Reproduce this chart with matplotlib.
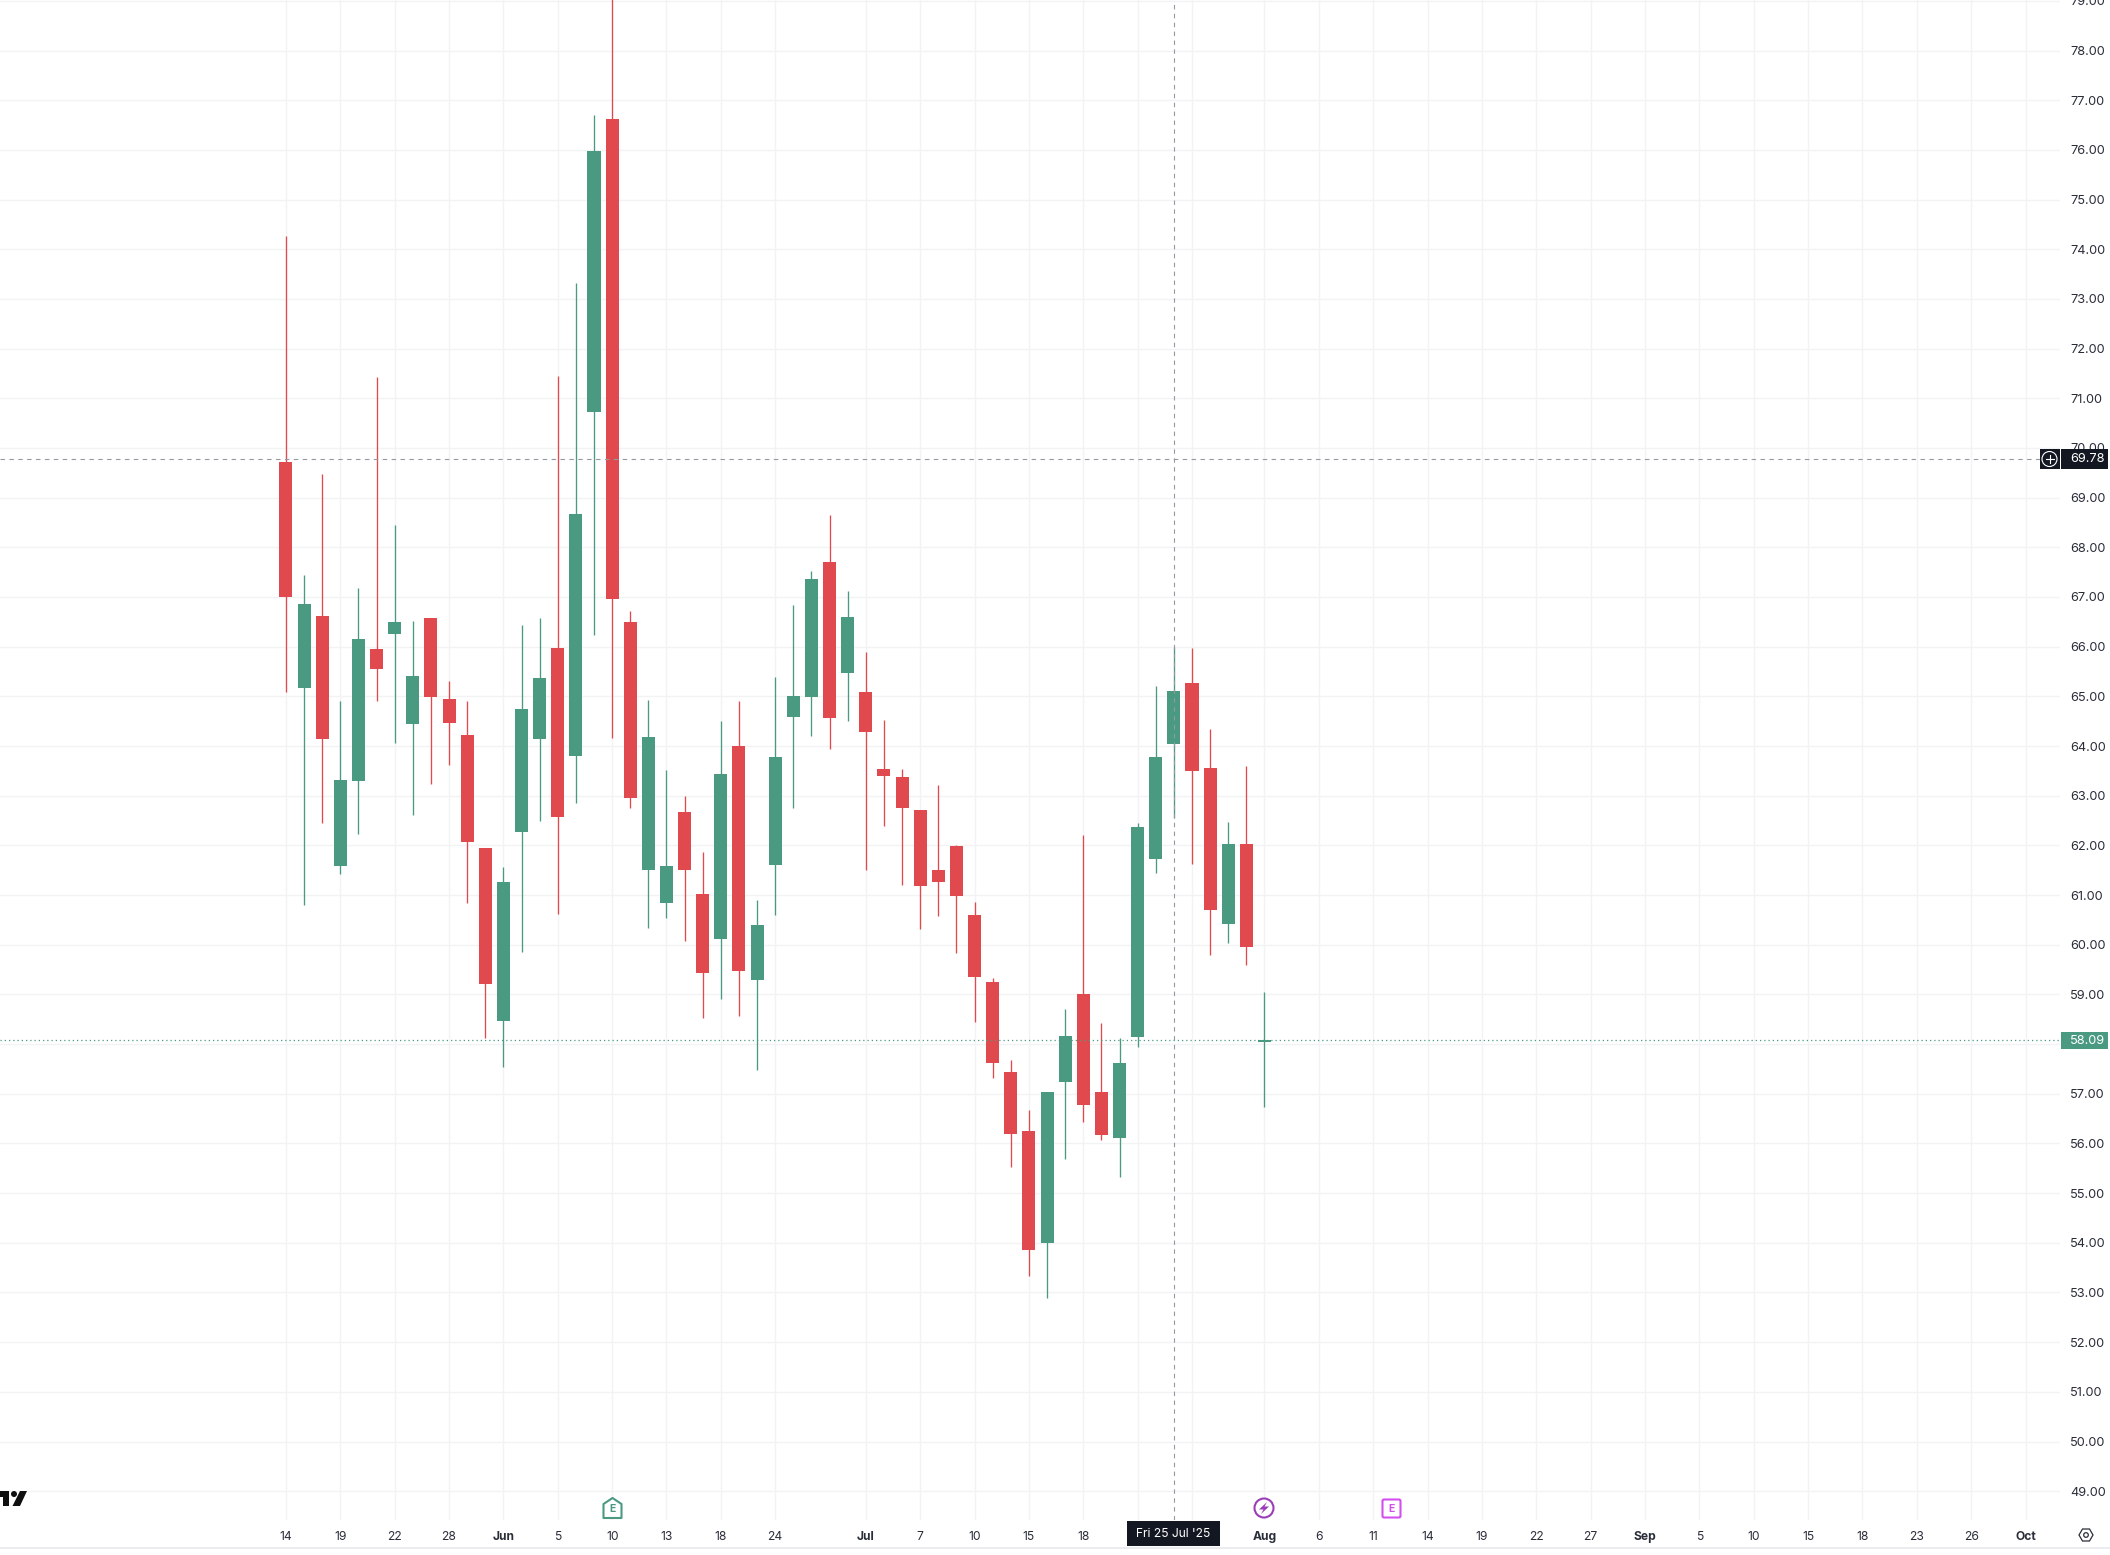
import matplotlib
matplotlib.use('Agg')
import matplotlib.pyplot as plt
from matplotlib.patches import Circle, FancyBboxPatch, Polygon, Rectangle
import numpy as np

plt.rcParams['font.family'] = ['Inter', 'DejaVu Sans']

# daily candles
opens = [69.71, 65.16, 66.61, 61.59, 63.29, 65.95, 66.25, 64.44, 66.57, 64.94,
         64.22, 61.95, 58.46, 62.27, 64.14, 65.97, 63.80, 70.72, 76.62, 66.50,
         61.51, 60.83, 62.67, 61.02, 60.12, 64.01, 59.28, 61.61, 64.58, 64.99,
         67.70, 65.47, 65.09, 63.54, 63.38, 62.71, 61.50, 61.99, 60.59, 59.24,
         57.44, 56.25, 54.00, 57.23, 59.01, 57.03, 56.11, 58.14, 61.72, 64.05,
         65.26, 63.55, 60.41, 62.02, 58.05]
highs = [74.26, 67.44, 69.47, 64.90, 67.18, 71.42, 68.44, 66.51, 66.57, 65.31,
         64.90, 61.95, 61.56, 66.43, 66.57, 71.45, 73.32, 76.70, 79.50, 66.72,
         64.93, 63.52, 62.99, 61.87, 64.50, 64.90, 60.90, 65.39, 66.84, 67.52,
         68.65, 67.12, 65.89, 64.52, 63.54, 62.71, 63.21, 62.01, 60.87, 59.34,
         57.68, 56.67, 57.03, 58.70, 62.21, 58.42, 58.12, 62.46, 65.20, 66.00,
         65.97, 64.34, 62.48, 63.59, 59.04]
lows = [65.08, 60.79, 62.46, 61.43, 62.22, 64.90, 64.06, 62.61, 63.24, 63.61,
        60.84, 58.12, 57.53, 59.85, 62.49, 60.62, 62.86, 66.23, 64.16, 62.75,
        60.33, 60.53, 60.07, 58.53, 58.90, 58.57, 57.47, 60.60, 62.76, 64.20,
        63.93, 64.51, 61.51, 62.40, 61.21, 60.32, 60.58, 59.83, 58.45, 57.32,
        55.53, 53.34, 52.89, 55.69, 56.44, 56.07, 55.33, 57.94, 61.44, 62.55,
        61.62, 59.79, 60.03, 59.59, 56.73]
closes = [67.00, 66.86, 64.14, 63.32, 66.15, 65.55, 66.50, 65.40, 64.99, 64.46,
          62.07, 59.20, 61.27, 64.75, 65.36, 62.57, 68.68, 75.97, 66.96, 62.95,
          64.18, 61.59, 61.51, 59.44, 63.43, 59.48, 60.40, 63.78, 65.01, 67.36,
          64.56, 66.60, 64.28, 63.40, 62.75, 61.18, 61.26, 60.98, 59.36, 57.62,
          56.19, 53.86, 57.03, 58.16, 56.78, 56.17, 57.62, 62.37, 63.77, 65.10,
          63.49, 60.69, 62.02, 59.95, 58.09]

# time axis: candle number of each tick and its label
# (the two ticks under the date tooltip keep their grid line but show no label)
tick_idx = [0, 3, 6, 9, 12, 15, 18, 21, 24, 27, 32, 35, 38, 41, 44, 47, 50, 54,
            57, 60, 63, 66, 69, 72, 75, 78, 81, 84, 87, 90, 93, 96]
tick_labels = ['14', '19', '22', '28', 'Jun', '5', '10', '13', '18', '24', 'Jul',
               '7', '10', '15', '18', '', '', 'Aug', '6', '11', '14', '19',
               '22', '27', 'Sep', '5', '10', '15', '18', '23', '26', 'Oct']
month_labels = ['Jun', 'Jul', 'Aug', 'Sep', 'Oct']
price_ticks = np.arange(49, 80)

crosshair_idx = 49
crosshair_price = 69.78
last_price = 58.09

GREEN = '#4A9A82'
RED = '#E04A4E'
GRID = '#F2F3F5'
DARK = '#131722'
CROSS = '#9598A1'
TEXT = '#2A2E39'
PURPLE = '#9C3DB8'

fig = plt.figure(figsize=(21.10, 15.55), dpi=100, facecolor='white')
ax = fig.add_axes([0, 35 / 1555, 2060 / 2110, 1520 / 1555])

# candles
x = np.arange(len(opens))
o = np.array(opens)
c = np.array(closes)
cols = [GREEN if b > a else RED for a, b in zip(opens, closes)]
ax.vlines(x, lows, highs, colors=cols, linewidth=0.95, zorder=3)
ax.bar(x, np.abs(c - o), bottom=np.minimum(o, c), width=0.72, color=cols, linewidth=0, zorder=3)

ax.set_xlim(-15.78, 97.9)
ax.set_ylim(48.42, 79.017)
ax.set_xticks(tick_idx)
ax.set_xticklabels(tick_labels)
ax.set_yticks(price_ticks)
# 58.00 sits under the last price tag
ax.set_yticklabels(['' if p == 58 else '%.2f' % p for p in price_ticks])
ax.yaxis.tick_right()
ax.tick_params(axis='y', length=0, pad=7.2, labelsize=9.2, labelcolor=TEXT)
ax.tick_params(axis='x', length=0, pad=8, labelsize=8.7, labelcolor=TEXT)
for lab in ax.get_xticklabels():
    if lab.get_text() in month_labels:
        lab.set_fontweight('bold')
ax.grid(True, color=GRID, linewidth=1.0, zorder=0)
ax.set_axisbelow(True)
for s in ax.spines.values():
    s.set_visible(False)

# crosshair and last price lines
ax.axvline(crosshair_idx, color=CROSS, linewidth=0.8, linestyle=(0, (4, 4)), zorder=4)
ax.axhline(crosshair_price, color=CROSS, linewidth=0.8, linestyle=(0, (4, 4)), zorder=4)
ax.axhline(last_price, color=GREEN, linewidth=0.9, linestyle=(0, (1, 2.4)), zorder=4)

# overlay in pixels for the tags and icons
ov = fig.add_axes([0, 0, 1, 1], facecolor='none')
ov.set_xlim(0, 2110)
ov.set_ylim(1555, 0)
ov.axis('off')

ov.plot([0, 2110], [1548, 1548], color='#E8E9ED', linewidth=1.2)

# price tags
ov.add_patch(Rectangle((2040, 449), 20, 20, color=DARK, linewidth=0))
ov.add_patch(Rectangle((2061, 449), 47, 20, color=DARK, linewidth=0))
ov.add_patch(Circle((2049.5, 459), 7.5, fill=False, edgecolor='white', linewidth=0.8))
ov.plot([2045.5, 2053.5], [459, 459], color='white', linewidth=0.8)
ov.plot([2049.5, 2049.5], [455, 463], color='white', linewidth=0.8)
ov.text(2070, 459.5, '%.2f' % crosshair_price, color='white', fontsize=9.2, va='center', ha='left')
ov.add_patch(Rectangle((2061, 1032), 47, 17, color=GREEN, linewidth=0))
ov.text(2070, 1040.5, '%.2f' % last_price, color='white', fontsize=9.2, va='center', ha='left')

# date tooltip
ov.add_patch(Rectangle((1127, 1521), 93, 25, color=DARK, linewidth=0))
ov.text(1173.5, 1534, "Fri 25 Jul '25", color='white', fontsize=8.7, va='center', ha='center')

# earnings marker
ov.add_patch(Polygon([(603.5, 1504), (612.5, 1498), (621.5, 1504), (621.5, 1518), (603.5, 1518)],
                     closed=True, facecolor='white', edgecolor=GREEN, linewidth=1.5, joinstyle='round'))
ov.text(612.5, 1509, 'E', color=GREEN, fontsize=7.5, fontweight='bold', va='center', ha='center')

# dividend marker
ov.add_patch(Circle((1264, 1508), 9.5, facecolor='white', edgecolor=PURPLE, linewidth=1.5))
ov.add_patch(Polygon([(1267, 1502), (1259, 1509.5), (1263.5, 1509.5), (1261, 1514),
                      (1269, 1506.5), (1264.5, 1506.5)], closed=True, color=PURPLE, linewidth=0))

# upcoming earnings marker
ov.add_patch(FancyBboxPatch((1382.5, 1499.5), 18, 18, boxstyle='round,pad=0,rounding_size=1.5',
                            facecolor='white', edgecolor='#D44FEF', linewidth=1.5))
ov.text(1391.5, 1509, 'E', color='#D44FEF', fontsize=7.5, fontweight='bold', va='center', ha='center')

# settings icon
ov.add_patch(Polygon([(2079, 1535), (2082.5, 1529), (2089.5, 1529), (2093, 1535), (2089.5, 1541), (2082.5, 1541)],
                     closed=True, fill=False, edgecolor=TEXT, linewidth=0.9))
ov.add_patch(Circle((2086, 1535), 2.3, fill=False, edgecolor=TEXT, linewidth=0.9))

# cut off logo in the corner
ov.add_patch(Polygon([(0, 1491), (9, 1491), (9, 1506), (3, 1506), (3, 1497), (0, 1497)],
                     closed=True, color='#0F0F0F', linewidth=0))
ov.add_patch(Circle((14, 1494), 3, color='#0F0F0F', linewidth=0))
ov.add_patch(Polygon([(20, 1491), (27, 1491), (20, 1506), (12.5, 1506)],
                     closed=True, color='#0F0F0F', linewidth=0))

fig.savefig('out.png', dpi=100)
